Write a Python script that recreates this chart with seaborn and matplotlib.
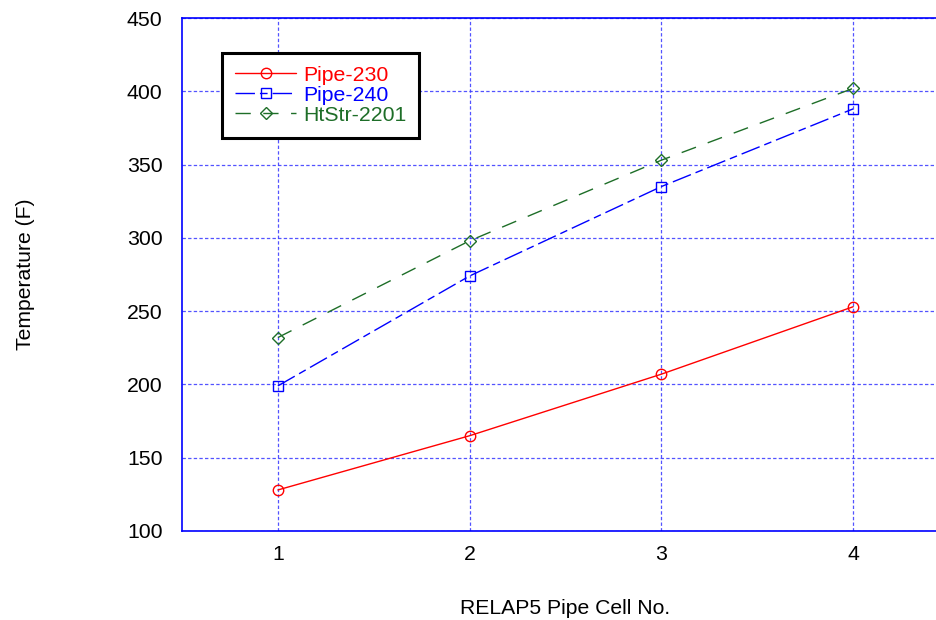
import matplotlib
matplotlib.use("Agg")
import matplotlib.pyplot as plt
import seaborn as sns
import pandas as pd

cells = [1, 2, 3, 4]
pipe_230 = [128, 165, 207, 253]
pipe_240 = [199, 274, 335, 388]
htstr_2201 = [232, 298, 353, 402]
series_names = ["Pipe-230", "Pipe-240", "HtStr-2201"]
y_ticks = [100, 150, 200, 250, 300, 350, 400, 450]
x_ticks = [1, 2, 3, 4]

sns.set_theme(style="white")
plt.rcParams["font.family"] = ["Liberation Sans", "DejaVu Sans"]

fig = plt.figure(figsize=(9.37, 6.2), dpi=100)
ax = fig.add_axes([182/937, 89/620, 767/937, 513/620])

styles = [
    dict(color="#ff0000", ls="-", marker="o"),
    dict(color="#0000ff", ls=(0, (14, 3.6, 5.5, 3.6)), marker="s"),
    dict(color="#1e6e28", ls=(0, (11, 9)), marker="D"),
]
values = [pipe_230, pipe_240, htstr_2201]
for name, vals, st in zip(series_names, values, styles):
    df = pd.DataFrame({"cell": cells, "temp": vals})
    ms = 7.5 if st["marker"] != "D" else 6
    sns.lineplot(data=df, x="cell", y="temp", ax=ax, color=st["color"],
                 linestyle=st["ls"], linewidth=1.0, marker=st["marker"],
                 markersize=ms, markerfacecolor="none",
                 markeredgecolor=st["color"], markeredgewidth=1.0,
                 label=name)

ax.set_xlim(0.5, 4.5)
ax.set_ylim(100, 450)
ax.set_xticks(x_ticks)
ax.set_yticks(y_ticks)
ax.grid(True, color="#4040ff", linestyle=(0, (2.7, 1.8)), linewidth=0.9, alpha=0.9)
for sp in ax.spines.values():
    sp.set_color("#0000ff")
    sp.set_linewidth(1.2)
    sp.set_visible(True)
ax.tick_params(axis="both", direction="in", length=4, color="#0000ff",
               labelsize=15.3, labelcolor="black")
ax.tick_params(axis="y", pad=14)
ax.tick_params(axis="x", pad=10)
ax.set_xlabel("RELAP5 Pipe Cell No.", fontsize=15.2, labelpad=25, color="black")
ax.set_ylabel("Temperature (F)", fontsize=15.2, labelpad=66, color="black")

leg = ax.legend(loc="upper left", bbox_to_anchor=(222/937, 1 - 53/620),
                bbox_transform=fig.transFigure, fontsize=15.3, frameon=True,
                fancybox=False, handlelength=2.9, handletextpad=0.33,
                labelspacing=0.05, borderpad=0.6, borderaxespad=0,
                labelcolor="linecolor")
leg.get_frame().set_edgecolor("black")
leg.get_frame().set_linewidth(2.2)
leg.get_frame().set_alpha(1)

fig.savefig("out.png", dpi=100)
